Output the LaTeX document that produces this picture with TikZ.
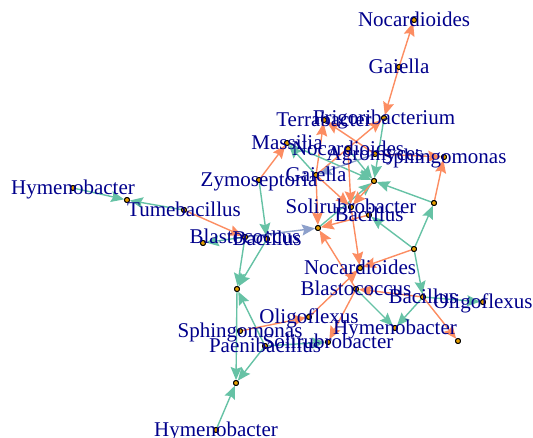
\documentclass[tikz,border=0pt]{standalone}
\usepackage{fontspec}
\setmainfont{Liberation Serif}
\usetikzlibrary{arrows.meta}
\definecolor{eor}{HTML}{FC8D62}
\definecolor{ete}{HTML}{66C2A5}
\definecolor{ebl}{HTML}{8DA0CB}
\definecolor{vfill}{HTML}{E69F00}
\definecolor{lab}{HTML}{00008B}
\begin{document}
\begin{tikzpicture}[x=1pt,y=-1pt,
  vtx/.style={circle,draw=black,fill=vfill,line width=0.9pt,inner sep=0pt,minimum size=5pt},
  lbl/.style={text=lab,font=\fontsize{21}{21}\selectfont,anchor=base,inner sep=0pt,yshift=-6.5pt},
  edge/.style={line width=1.4pt,-{Stealth[length=13pt,width=11pt,inset=2pt]}},
  eo/.style={edge,draw=eor,fill=eor},
  et/.style={edge,draw=ete,fill=ete},
  eb/.style={edge,draw=ebl,fill=ebl}]
\useasboundingbox (0,0) rectangle (533,437);
% vertices
\node[vtx] (NocT) at (414,20) {};
\node[vtx] (GaiT) at (399,67) {};
\node[vtx] (Frig) at (384,118) {};
\node[vtx] (Terr) at (324,120) {};
\node[vtx] (Mass) at (287,143) {};
\node[vtx] (NocM) at (348,149) {};
\node[vtx] (Agro) at (375,154) {};
\node[vtx] (SphR) at (444,157) {};
\node[vtx] (GaiM) at (316,175) {};
\node[vtx] (Zymo) at (259,180) {};
\node[vtx] (HubA) at (374,181) {};
\node[vtx] (NL) at (434,203) {};
\node[vtx] (SolC) at (351,207) {};
\node[vtx] (BacC) at (369,215) {};
\node[vtx] (HubB) at (318,228) {};
\node[vtx] (Tume) at (184,210) {};
\node[vtx] (HymL) at (73,188) {};
\node[vtx] (NR) at (127,200) {};
\node[vtx] (NS) at (203,243) {};
\node[vtx] (BlaL) at (245,237) {};
\node[vtx] (BacL) at (267,239) {};
\node[vtx] (NV) at (237,289) {};
\node[vtx] (NW) at (414,249) {};
\node[vtx] (NocL) at (360,268) {};
\node[vtx] (BlaW) at (356,289) {};
\node[vtx] (BacR) at (423,297) {};
\node[vtx] (OliR) at (483,302) {};
\node[vtx] (HymW) at (395,328) {};
\node[vtx] (NAC) at (458,341) {};
\node[vtx] (OliL) at (309,317) {};
\node[vtx] (SolL) at (328,342) {};
\node[vtx] (SphL) at (240,331) {};
\node[vtx] (Paen) at (265,346) {};
\node[vtx] (NAH) at (236,383) {};
\node[vtx] (HymB) at (216,430) {};
% edges
\draw[eo] (GaiT) -- (NocT);
\draw[eo] (GaiT) -- (Frig);
\draw[et] (Frig) -- (HubA);
\draw[eo] (GaiM) -- (Frig);
\draw[eo] (GaiM) -- (Terr);
\draw[eo] (Agro) -- (Terr);
\draw[eo] (Zymo) -- (Mass);
\draw[et] (GaiM) -- (Mass);
\draw[et] (Mass) -- (HubA);
\draw[eb] (Agro) -- (GaiM);
\draw[et] (Zymo) -- (BacL);
\draw[eo] (Tume) -- (BlaL);
\draw[et] (HymL) -- (NR);
\draw[et] (Tume) -- (NR);
\draw[et] (BlaL) -- (NS);
\draw[eb] (BlaL) -- (HubB);
\draw[et] (BlaL) -- (NV);
\draw[et] (BacL) -- (NV);
\draw[et] (Paen) -- (NV);
\draw[et] (NV) -- (NAH);
\draw[et] (Paen) -- (NAH);
\draw[et] (HymB) -- (NAH);
\draw[et] (Paen) -- (SolL);
\draw[eo] (SphL) -- (OliL);
\draw[eo] (OliL) -- (NocL);
\draw[eo] (BlaW) -- (SolL);
\draw[et] (BlaW) -- (HymW);
\draw[et] (BacR) -- (HymW);
\draw[eo] (BacR) -- (BlaW);
\draw[eo] (BacR) -- (NAC);
\draw[et] (BacR) -- (OliR);
\draw[eo] (NW) -- (NocL);
\draw[et] (NW) -- (BacR);
\draw[eo] (SolC) -- (NocL);
\draw[eo] (BlaW) -- (HubB);
\draw[et] (NL) -- (HubA);
\draw[et] (NW) -- (NL);
\draw[eo] (NL) -- (SphR);
\draw[et] (NW) -- (BacC);
\draw[et] (HubB) -- (HubA);
\draw[eo] (BacC) -- (HubB);
\draw[eo] (GaiM) -- (HubB);
\draw[eo] (GaiM) -- (SolC);
\draw[eo] (NocM) -- (SolC);
\draw[eo] (HubA) -- (SolC);
\draw[et] (NocM) -- (HubA);
\draw[eo] (Agro) -- (SphR);
% redraw vertices on top
\foreach \n in {NocT,GaiT,Frig,Terr,Mass,NocM,Agro,SphR,GaiM,Zymo,HubA,NL,SolC,BacC,HubB,Tume,HymL,NR,NS,BlaL,BacL,NV,NW,NocL,BlaW,BacR,OliR,HymW,NAC,OliL,SolL,SphL,Paen,NAH,HymB}
  \node[vtx] at (\n) {};
% labels
\node[lbl] (tNocT) at (NocT) {Nocardioides};
\node[lbl] (tGaiT) at (GaiT) {Gaiella};
\node[lbl] (tFrig) at (Frig) {Frigoribacterium};
\node[lbl] (tTerr) at (Terr) {Terrabacter};
\node[lbl] (tMass) at (Mass) {Massilia};
\node[lbl] (tNocM) at (NocM) {Nocardioides};
\node[lbl] (tAgro) at (Agro) {Agromyces};
\node[lbl] (tSphR) at (SphR) {Sphingomonas};
\node[lbl] (tGaiM) at (GaiM) {Gaiella};
\node[lbl] (tZymo) at (Zymo) {Zymoseptoria};
\node[lbl] (tSolC) at (SolC) {Solirubrobacter};
\node[lbl] (tBacC) at (BacC) {Bacillus};
\node[lbl] (tTume) at (Tume) {Tumebacillus};
\node[lbl] (tHymL) at (HymL) {Hymenobacter};
\node[lbl] (tBlaL) at (BlaL) {Blastococcus};
\node[lbl] (tBacL) at (BacL) {Bacillus};
\node[lbl] (tNocL) at (NocL) {Nocardioides};
\node[lbl] (tBlaW) at (BlaW) {Blastococcus};
\node[lbl] (tBacR) at (BacR) {Bacillus};
\node[lbl] (tOliR) at (OliR) {Oligoflexus};
\node[lbl] (tHymW) at (HymW) {Hymenobacter};
\node[lbl] (tOliL) at (OliL) {Oligoflexus};
\node[lbl] (tSolL) at (SolL) {Solirubrobacter};
\node[lbl] (tSphL) at (SphL) {Sphingomonas};
\node[lbl] (tPaen) at (Paen) {Paenibacillus};
\node[lbl] (tHymB) at (HymB) {Hymenobacter};
\end{tikzpicture}
\end{document}
